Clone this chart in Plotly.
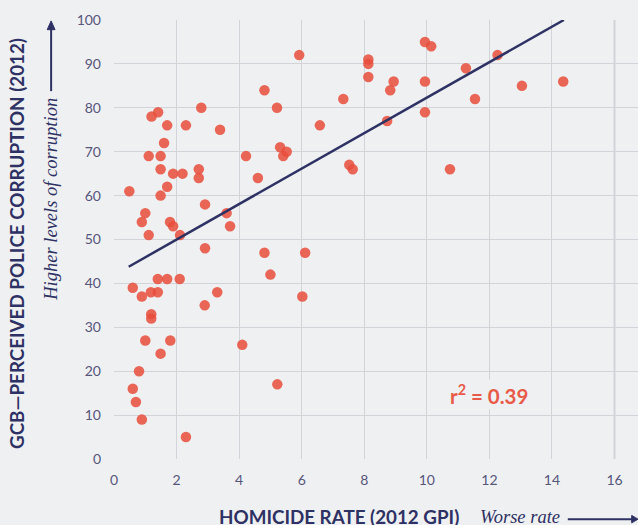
"""Homicide rate vs perceived police corruption (GCB 2012)."""

import plotly.graph_objects as go

# homicide rate per 100k (2012 GPI)
homicide_rate = [
    0.49, 1.20, 1.41, 1.70, 2.30, 2.79, 3.39, 1.11, 1.49, 1.60,
    1.49, 1.89, 2.19, 2.71, 2.71, 1.70, 1.49, 1.00, 0.89, 1.11,
    1.79, 1.89, 2.11, 2.91, 3.60, 3.71, 2.91, 4.22, 4.60, 4.81,
    5.21, 5.31, 5.41, 5.52, 5.92, 6.58, 4.81, 6.11, 5.00, 0.60,
    1.40, 1.70, 2.10, 0.89, 1.18, 1.40, 3.30, 2.90, 6.02, 1.19,
    1.19, 1.00, 1.80, 1.49, 4.10, 0.80, 0.60, 0.70, 0.89, 2.30,
    5.22, 9.94, 10.14, 8.13, 8.13, 8.13, 8.94, 8.83, 9.94, 12.26,
    11.25, 13.04, 14.36, 11.54, 7.33, 9.94, 8.73, 7.52, 7.63, 10.74,
]
# % perceiving police as corrupt
police_corruption = [
    61, 78, 79, 76, 76, 80, 75, 69, 69, 72,
    66, 65, 65, 66, 64, 62, 60, 56, 54, 51,
    54, 53, 51, 58, 56, 53, 48, 69, 64, 84,
    80, 71, 69, 70, 92, 76, 47, 47, 42, 39,
    41, 41, 41, 37, 38, 38, 38, 35, 37, 33,
    32, 27, 27, 24, 26, 20, 16, 13, 9, 5,
    17, 95, 94, 91, 90, 87, 86, 84, 86, 92,
    89, 85, 86, 82, 82, 79, 77, 67, 66, 66,
]

# fitted trend line end points
trend_x = [0.47, 14.38]
trend_y = [43.8, 100]
r_squared = 0.39

x_ticks = list(range(0, 17, 2))
y_ticks = list(range(0, 101, 10))

BG = "#eff0f2"
NAVY = "#2e3163"
GRID = "#d3d4d9"
TICK = "#56567a"
RED = "#e85a48"

fig = go.Figure()

fig.add_trace(go.Scatter(
    x=homicide_rate,
    y=police_corruption,
    mode="markers",
    marker=dict(size=10.5, color="rgba(232,78,60,0.85)", line=dict(width=0)),
    hoverinfo="x+y",
))

fig.add_trace(go.Scatter(
    x=trend_x,
    y=trend_y,
    mode="lines",
    line=dict(color=NAVY, width=2.5),
    hoverinfo="skip",
))

fig.add_annotation(
    x=12.0, y=14.6, xref="x", yref="y",
    text=f"<b>r<sup>2</sup> = {r_squared:.2f}</b>",
    showarrow=False, bgcolor=BG,
    font=dict(family="Lato", size=20.5, color=RED),
)

# slightly darker grid line at x = 16
fig.add_shape(type="line", xref="x", yref="paper", x0=16, x1=16, y0=0, y1=1,
              line=dict(color="#cbccd1", width=1.8), layer="below")

# left axis title and helper
fig.add_annotation(
    xref="paper", yref="paper", x=-0.185, y=0.49, xanchor="center", yanchor="middle",
    text="<b>GCB—PERCEIVED POLICE CORRUPTION (2012)</b>", textangle=-90,
    showarrow=False, font=dict(family="Lato", size=18.8, color=NAVY),
)
fig.add_annotation(
    xref="paper", yref="paper", x=-0.12, y=0.355, xanchor="center", yanchor="bottom",
    text="<i>Higher levels of corruption</i>", textangle=-90,
    showarrow=False, font=dict(family="Liberation Serif", size=18.5, color=NAVY),
)
fig.add_shape(type="line", xref="paper", yref="paper",
              x0=-0.12, x1=-0.12, y0=0.838, y1=0.985,
              line=dict(color=NAVY, width=2))
fig.add_shape(type="path", xref="paper", yref="paper",
              path="M -0.1275,0.978 L -0.1125,0.978 L -0.12,0.998 Z",
              fillcolor=NAVY, line=dict(color=NAVY, width=1))

# bottom axis title and helper
fig.add_annotation(
    xref="paper", yref="paper", x=0.197, y=-0.132, xanchor="left", yanchor="middle",
    text="<b>HOMICIDE RATE (2012 GPI)</b>",
    showarrow=False, font=dict(family="Lato", size=18.8, color=NAVY),
)
fig.add_annotation(
    xref="paper", yref="paper", x=0.694, y=-0.132, xanchor="left", yanchor="middle",
    text="<i>Worse rate</i>",
    showarrow=False, font=dict(family="Liberation Serif", size=18.5, color=NAVY),
)
fig.add_shape(type="line", xref="paper", yref="paper",
              x0=0.866, x1=0.995, y0=-0.137, y1=-0.137,
              line=dict(color=NAVY, width=2))
fig.add_shape(type="path", xref="paper", yref="paper",
              path="M 0.988,-0.1285 L 0.988,-0.1455 L 1.0,-0.137 Z",
              fillcolor=NAVY, line=dict(color=NAVY, width=1))

fig.update_layout(
    width=638,
    height=525,
    paper_bgcolor=BG,
    plot_bgcolor=BG,
    showlegend=False,
    margin=dict(l=114, r=0, t=20, b=66),
    font=dict(family="Lato", color=TICK, size=14),
    xaxis=dict(
        range=[0, 16.75],
        tickvals=x_ticks,
        showgrid=True, gridcolor=GRID, gridwidth=1.2,
        zeroline=False, showline=False, ticks="",
        tickfont=dict(size=14, color=TICK),
        ticklabelstandoff=11,
        fixedrange=True,
    ),
    yaxis=dict(
        range=[0, 100],
        tickvals=y_ticks,
        showgrid=True, gridcolor=GRID, gridwidth=1.2,
        zeroline=False, showline=False, ticks="",
        tickfont=dict(size=14, color=TICK),
        ticklabelstandoff=12,
        fixedrange=True,
    ),
)

# drop the default page margin so the figure sits at the window corner
fig.write_html(
    "out.html",
    config={"displayModeBar": False},
    post_script="document.body.style.margin='0';",
)
